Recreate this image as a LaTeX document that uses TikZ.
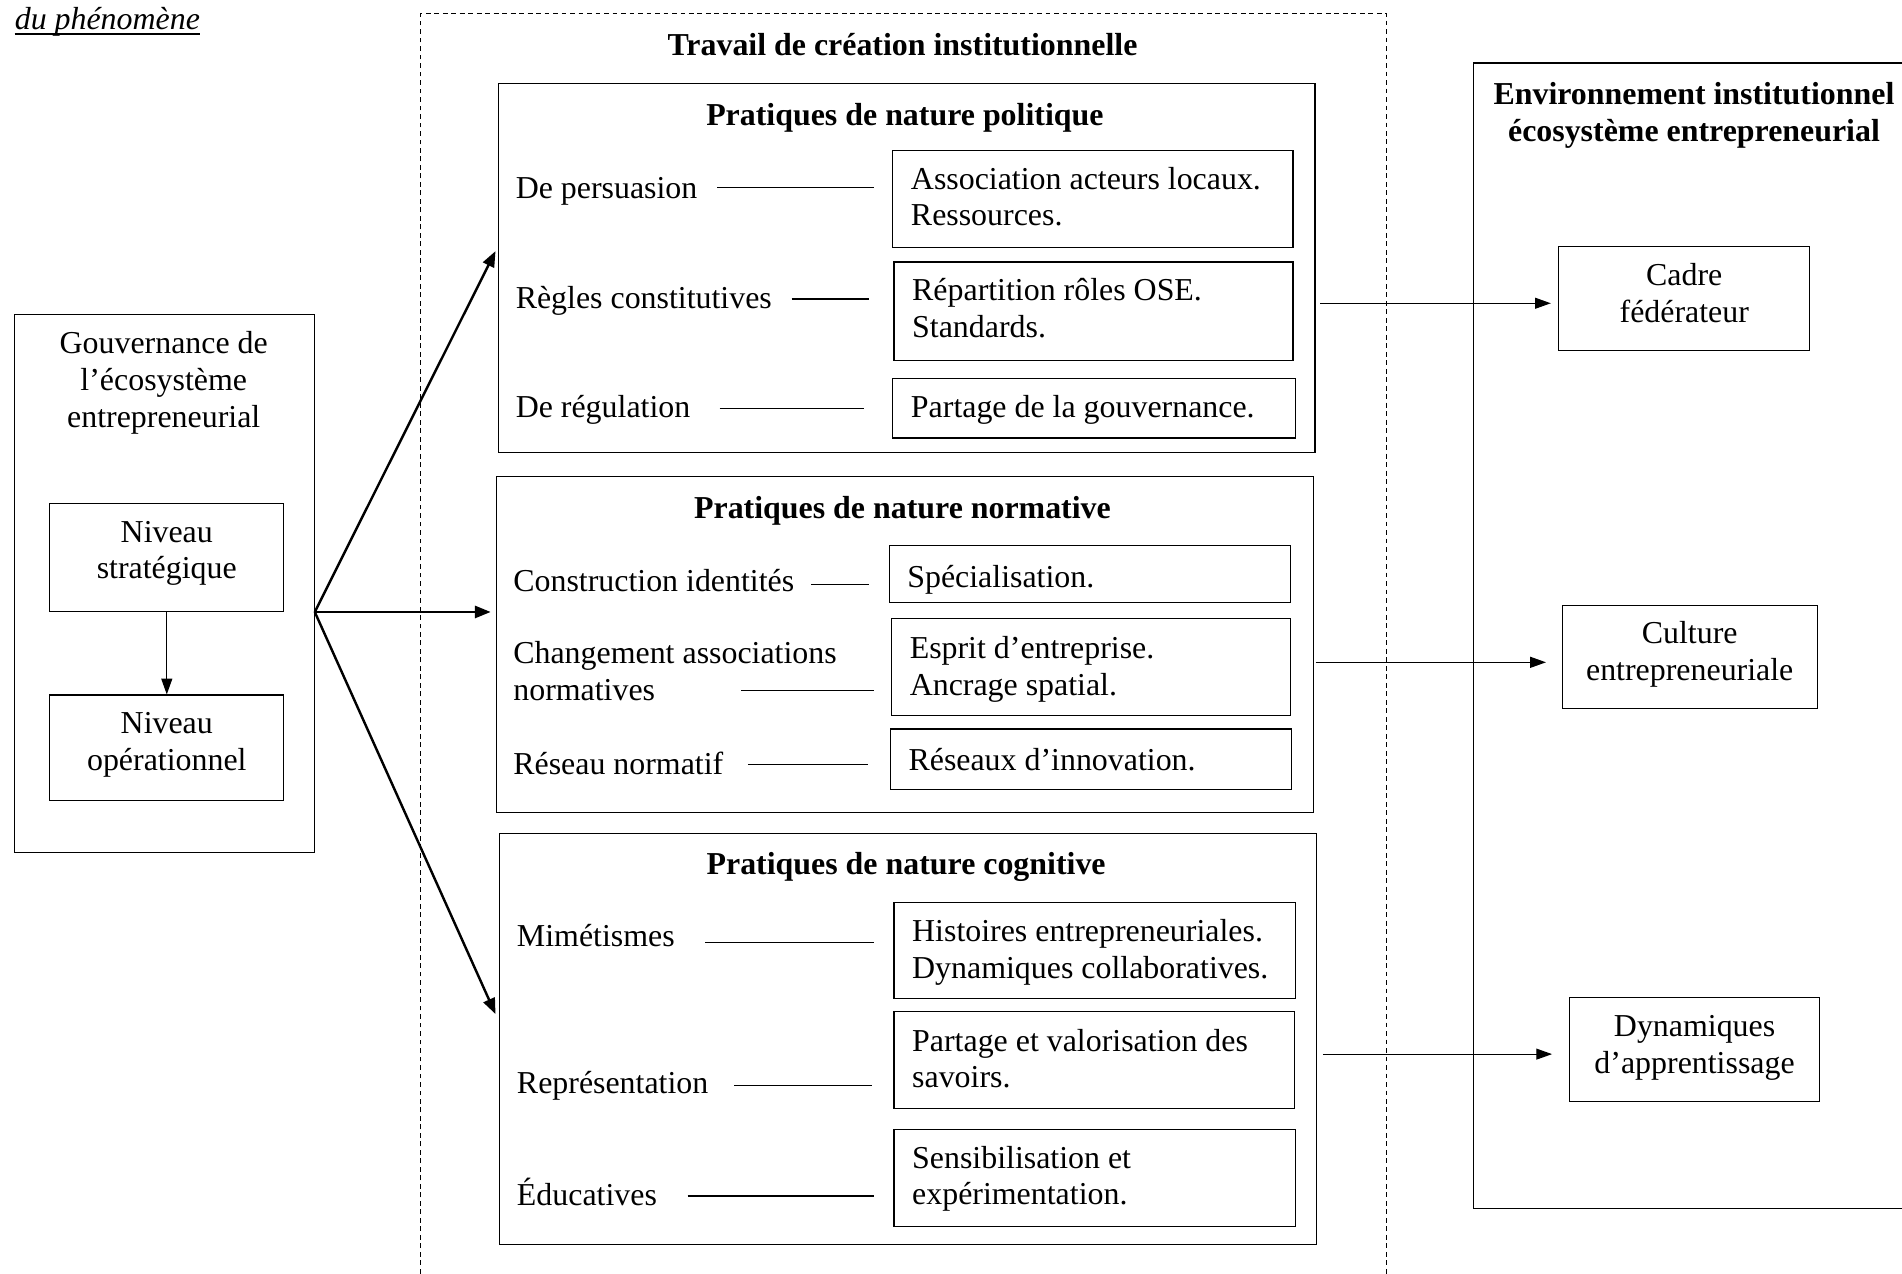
\documentclass[tikz,border=0pt]{standalone}
\usepackage{fontspec}
\setmainfont{Liberation Serif}
\usetikzlibrary{arrows.meta,calc}
\begin{document}
\begin{tikzpicture}[x=1pt,y=-1pt,
  txt/.style={font=\fontsize{26.3}{30.3}\selectfont, inner sep=0pt},
  ttl/.style={font=\fontsize{26.3}{30.3}\selectfont\bfseries, inner sep=0pt, align=center},
  frame/.style={draw, line width=1pt, inner sep=0pt},
  nospace/.style={execute at begin node={\spaceskip=0pt\xspaceskip=0pt\relax}},
  lbox/.style={frame, txt, align=left, inner xsep=15pt, inner ysep=0pt, nospace},
  cbox/.style={frame, txt, align=center, inner xsep=5pt, inner ysep=0pt, nospace},
  tb/.style n args={4}{minimum width=#1pt, text width=#2pt, text height=#3pt, text depth=#4pt},
  lab/.style={txt, anchor=west, text height=18pt, text depth=6pt},
  link/.style={line width=1pt},
  dashframe/.style={line width=0.8pt, dash pattern=on 4pt off 3pt},
  bigarr/.style={line width=2pt, -{Triangle[length=13pt,width=10pt]}},
  smallarr/.style={line width=1pt, -{Triangle[length=13pt,width=9pt]}},
]
\fill[white] (0,0) rectangle (1568,1050);
\path[use as bounding box] (0,0) rectangle (1568,1050);

% heading fragment
\node[txt, font=\fontsize{26.3}{30.3}\selectfont\itshape, anchor=base west] (du) at (12,24) {du phénomène};
\draw[line width=1.3pt] ($(du.base west)+(0,4)$) -- ($(du.base east)+(0,4)$);

% governance
\node[frame, minimum width=247pt, minimum height=444pt] (gouv) at (135.5,481) {};
\node[txt, align=center, nospace] (gouvt) at (135,315.5) {Gouvernance de\\l’écosystème\\entrepreneurial};
\node[cbox, tb={193}{183}{32}{57}] (strat) at (137.5,459.5) {Niveau\\stratégique};
\node[cbox, tb={193}{183}{32}{55}] (opera) at (137.5,616.5) {Niveau\\opérationnel};
\draw[smallarr] (strat) -- (opera);

% institutional work frame
\draw[dashframe] (347,1050) -- (347,11) -- (1143,11) -- (1143,1050);
\node[ttl] (travt) at (744,36.5) {Travail de création institutionnelle};

% political
\node[frame, minimum width=673pt, minimum height=304pt] (pol) at (747.5,221) {};
\node[ttl] (polt) at (746,97) {Pratiques de nature politique};
\node[lbox, tb={330}{300}{32}{48}] (p1) at (901,164) {Association acteurs locaux.\\Ressources.};
\node[lbox, tb={329}{299}{32}{49}] (p2) at (901.5,256.5) {Répartition rôles OSE.\\Standards.};
\node[lbox, tb={332}{302}{32}{17}] (p3) at (902,336.5) {Partage de la gouvernance.};
\node[lab] (pl1) at (425,157.5) {De persuasion};
\node[lab] (pl2) at (425,248.5) {Règles constitutives};
\node[lab] (pl3) at (425,338.5) {De régulation};
\draw[link] ($(pl1.east)+(16,-3)$) -- ($(pl1.east -| p1.west)+(-15,-3)$);
\draw[link] ($(pl2.east)+(16,-2)$) -- ($(pl2.east -| p2.west)+(-20,-2)$);
\draw[link] ($(pl3.east)+(24,-2)$) -- ($(pl3.east -| p3.west)+(-23,-2)$);

% normative
\node[frame, minimum width=674pt, minimum height=277pt] (norm) at (746,531.5) {};
\node[ttl] (normt) at (744,421) {Pratiques de nature normative};
\node[lbox, tb={331}{301}{34.5}{12.5}] (n1) at (898.5,473.5) {Spécialisation.};
\node[lbox, tb={329}{299}{33}{47}] (n2) at (899.5,550) {Esprit d’entreprise.\\Ancrage spatial.};
\node[lbox, tb={331}{301}{34.5}{15.5}] (n3) at (899.5,626) {Réseaux d’innovation.};
\node[lab] (nl1) at (423,481.5) {Construction identités};
\node[txt, anchor=west, align=left, nospace] (nl2) at (423,553.5) {Changement associations\\normatives};
\node[lab] (nl3) at (423,632.5) {Réseau normatif};
\coordinate (nl2s) at (611,569);
\draw[link] ($(nl1.east)+(14,0.5)$) -- ($(nl1.east -| n1.west)+(-16,0.5)$);
\draw[link] (nl2s) -- ($(nl2s -| n2.west)+(-14,0)$);
\draw[link] ($(nl3.east)+(20,-2)$) -- ($(nl3.east -| n3.west)+(-18,-2)$);

% cognitive
\node[frame, minimum width=673pt, minimum height=339pt] (cog) at (748.5,856.5) {};
\node[ttl] (cogt) at (747,715) {Pratiques de nature cognitive};
\node[lbox, tb={331}{301}{32.5}{46.5}] (c1) at (902.5,783.5) {Histoires entrepreneuriales.\\Dynamiques collaboratives.};
\node[lbox, tb={330}{300}{32.5}{47.5}] (c2) at (902,874) {Partage et valorisation des\\savoirs.};
\node[lbox, tb={331}{301}{32}{48}] (c3) at (902.5,971) {Sensibilisation et\\expérimentation.};
\node[lab] (cl1) at (426,774.5) {Mimétismes};
\node[lab] (cl2) at (426,895.5) {Représentation};
\node[lab] (cl3) at (426,987.5) {Éducatives};
\draw[link] ($(cl1.east)+(25,2.5)$) -- ($(cl1.east -| c1.west)+(-16,2.5)$);
\draw[link] ($(cl2.east)+(21,-0.5)$) -- ($(cl2.east -| c2.west)+(-18,-0.5)$);
\draw[link] ($(cl3.east)+(25,-1.5)$) -- ($(cl3.east -| c3.west)+(-16,-1.5)$);

% arrows from governance
\coordinate (src) at (gouv.east |- strat.south);
\draw[bigarr] (src) -- ($(pol.west)+(-2,-14)$);
\draw[bigarr] (src) -- ($(norm.west |- src)+(-4,0)$);
\draw[bigarr] (src) -- ($(cog.west)+(-3,-20.5)$);

% institutional environment
\draw[line width=1pt] (1568,52) -- (1215,52) -- (1215,996) -- (1568,996);
\node[ttl] (envt) at (1396.5,95) {Environnement institutionnel\\écosystème entrepreneurial};
\node[cbox, tb={207}{197}{32.5}{53.5}] (cadre) at (1388.5,246) {Cadre\\fédérateur};
\node[cbox, tb={210}{200}{31.5}{53.5}] (culture) at (1393,541.5) {Culture\\entrepreneuriale};
\node[cbox, tb={206}{196}{32.5}{53.5}] (dyn) at (1397,865) {Dynamiques\\d’apprentissage};

\draw[smallarr] ($(pol.east |- cadre.west)+(4,4)$) -- ($(cadre.west)+(-6,4)$);
\draw[smallarr] ($(norm.east |- culture.west)+(1,4.5)$) -- ($(culture.west)+(-13,4.5)$);
\draw[smallarr] ($(cog.east |- dyn.west)+(5,4)$) -- ($(dyn.west)+(-14,4)$);
\end{tikzpicture}
\end{document}
